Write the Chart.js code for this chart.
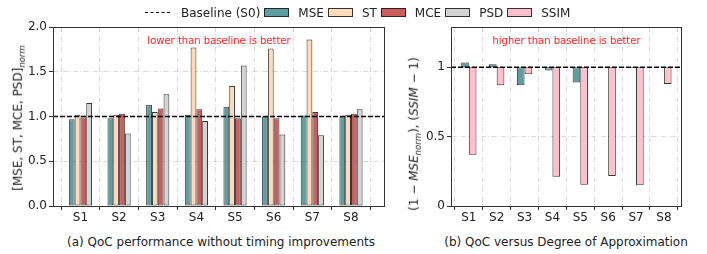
<!DOCTYPE html>
<html lang="en">
<head>
  <meta charset="UTF-8" />
  <title>QoC charts</title>
  <script src="https://cdn.jsdelivr.net/npm/chart.js"></script>
  <style>
    body {
      margin: 0;
      background: #fff;
      font-family: "DejaVu Sans", sans-serif;
      color: #222;
    }

    .wrap {
      position: relative;
      width: 707px;
      height: 254px;
      overflow: hidden;
    }

    canvas {
      position: absolute;
      top: 0;
    }

    .legend {
      position: absolute;
      left: 145px;
      top: 4px;
      display: flex;
      align-items: center;
      font-size: 12px;
      height: 17px;
    }

    .legend .item {
      display: flex;
      align-items: center;
      margin-right: 4px;
    }

    .legend .swatch {
      width: 23px;
      height: 7px;
      border: 1px solid rgba(20,20,20,0.85);
      margin-right: 9px;
    }

    .legend .dash {
      width: 25px;
      height: 0;
      border-top: 1.3px dashed #000;
      margin-right: 11px;
    }

    .caption {
      position: absolute;
      top: 235px;
      font-size: 12px;
      white-space: nowrap;
      transform: translateX(-50%);
    }

    .ytitle {
      position: absolute;
      font-size: 12px;
      white-space: nowrap;
      transform: translate(-50%, -50%) rotate(-90deg);
    }

    .ytitle sub {
      font-size: 8.5px;
      font-style: italic;
    }
  </style>
</head>
<body>
  <div class="wrap">
    <canvas id="left-chart" width="400" height="230" style="left:0"></canvas>
    <canvas id="right-chart" width="307" height="230" style="left:400px"></canvas>

    <div class="legend" id="legend"></div>

    <div class="ytitle" style="left:19px; top:118px">[MSE, ST, MCE, PSD]<sub>norm</sub></div>
    <div class="ytitle" style="left:415px; top:134px">(1 &minus; <i>MSE</i><sub>norm</sub>), (<i>SSIM</i> &minus; 1)</div>

    <div class="caption" style="left:221px">(a) QoC performance without timing improvements</div>
    <div class="caption" style="left:566px">(b) QoC versus Degree of Approximation</div>
  </div>

  <script>
    // data
    const scenarios = ["S1", "S2", "S3", "S4", "S5", "S6", "S7", "S8"];
    const baseline = 1;

    const mse = [0.97, 0.98, 1.13, 1.02, 1.11, 1.00, 1.01, 1.00];
    const st  = [1.02, 1.02, 1.05, 1.77, 1.34, 1.76, 1.86, 1.02];
    const mce = [0.99, 1.03, 1.09, 1.08, 0.98, 0.98, 1.05, 1.03];
    const psd = [1.15, 0.81, 1.25, 0.95, 1.57, 0.80, 0.79, 1.08];

    // right panel: 1 - MSE_norm and SSIM (bars hang from the baseline)
    const mseInv = [1.034, 1.022, 0.87, 0.976, 0.89, 0.998, 0.994, 1.004];
    const ssim   = [0.37, 0.87, 0.95, 0.21, 0.153, 0.216, 0.149, 0.88];

    const leftTicks = [0, 0.5, 1, 1.5, 2];
    const rightTicks = [0, 0.5, 1];

    const colors = {
      MSE: "#5f9ea0",
      ST: "#ffdab9",
      MCE: "#cd5c5c",
      PSD: "#d3d3d3",
      SSIM: "#ffc0cb"
    };
    const edge = "rgba(20,20,20,0.85)";

    // legend
    const legend = document.getElementById("legend");
    legend.innerHTML = '<div class="item"><div class="dash"></div><span>Baseline (S0)</span></div>' +
      Object.keys(colors).map(k =>
        `<div class="item"><div class="swatch" style="background:${colors[k]}"></div><span>${k}</span></div>`
      ).join("");

    function points(arr) {
      return arr.map((v, i) => ({ x: i, y: v }));
    }
    function hanging(arr) {
      return arr.map((v, i) => ({ x: i, y: [baseline, v] }));
    }

    function barSet(label, data) {
      return {
        label: label,
        data: data,
        backgroundColor: colors[label],
        borderColor: edge,
        borderWidth: 1,
        borderSkipped: false
      };
    }

    // baseline, frame and the red note
    const extras = {
      id: "extras",
      afterDatasetsDraw(chart, args, opts) {
        const { ctx, chartArea: a, scales } = chart;
        const y = scales.y.getPixelForValue(baseline);
        ctx.save();
        ctx.strokeStyle = "#000";
        ctx.lineWidth = 1.3;
        ctx.setLineDash([5, 2]);
        ctx.beginPath();
        ctx.moveTo(a.left, y);
        ctx.lineTo(a.right, y);
        ctx.stroke();
        ctx.setLineDash([]);
        ctx.lineWidth = 1;
        ctx.strokeStyle = "#333";
        ctx.strokeRect(a.left + 0.5, a.top + 0.5, a.right - a.left - 1, a.bottom - a.top);
        ctx.fillStyle = "#ff2020";
        ctx.font = "10px 'DejaVu Sans'";
        ctx.textAlign = "center";
        ctx.textBaseline = "middle";
        ctx.fillText(opts.note, (a.left + a.right) / 2, a.top + 14);
        ctx.restore();
      }
    };

    const gridStyle = {
      color: "rgba(0,0,0,0.14)",
      tickColor: "#333",
      tickLength: 4
    };
    const tickFont = { family: "DejaVu Sans", size: 12 };

    function makeOptions(cfg) {
      return {
        responsive: false,
        animation: false,
        layout: { padding: { left: 0, top: 27, right: cfg.padRight, bottom: 0 } },
        plugins: {
          legend: { display: false },
          tooltip: { enabled: false },
          extras: { note: cfg.note }
        },
        datasets: {
          bar: { categoryPercentage: cfg.catPct, barPercentage: 1, grouped: true }
        },
        scales: {
          x: {
            type: "linear",
            offset: false,
            min: cfg.xMin,
            max: cfg.xMax,
            afterBuildTicks: s => { s.ticks = scenarios.map((c, i) => ({ value: i })); },
            afterFit: s => { s.height = 24; },
            ticks: {
              callback: v => scenarios[v],
              color: "#222",
              font: tickFont,
              padding: 1,
              maxRotation: 0
            },
            grid: gridStyle,
            border: { display: false, dash: [5, 2, 1, 2] }
          },
          y: {
            min: 0,
            max: cfg.yMax,
            afterBuildTicks: s => { s.ticks = cfg.yTicks.map(v => ({ value: v })); },
            afterFit: s => { s.width = cfg.yWidth; },
            ticks: {
              callback: cfg.yLabel,
              color: "#222",
              font: tickFont,
              padding: 2
            },
            grid: gridStyle,
            border: { display: false, dash: [5, 2, 1, 2] }
          }
        }
      };
    }

    new Chart(document.getElementById("left-chart"), {
      type: "bar",
      data: {
        datasets: [
          barSet("MSE", points(mse)),
          barSet("ST", points(st)),
          barSet("MCE", points(mce)),
          barSet("PSD", points(psd))
        ]
      },
      options: makeOptions({
        padRight: 15,
        note: "lower than baseline is better",
        catPct: 0.6,
        xMin: -0.71,
        xMax: 7.88,
        yMax: 2,
        yTicks: leftTicks,
        yWidth: 53,
        yLabel: v => v.toFixed(1)
      }),
      plugins: [extras]
    });

    new Chart(document.getElementById("right-chart"), {
      type: "bar",
      data: {
        datasets: [
          barSet("MSE", hanging(mseInv)),
          barSet("SSIM", hanging(ssim))
        ]
      },
      options: makeOptions({
        padRight: 25,
        note: "higher than baseline is better",
        catPct: 0.55,
        xMin: -0.64,
        xMax: 7.65,
        yMax: 1.29,
        yTicks: rightTicks,
        yWidth: 51,
        yLabel: v => String(v)
      }),
      plugins: [extras]
    });
  </script>
</body>
</html>
